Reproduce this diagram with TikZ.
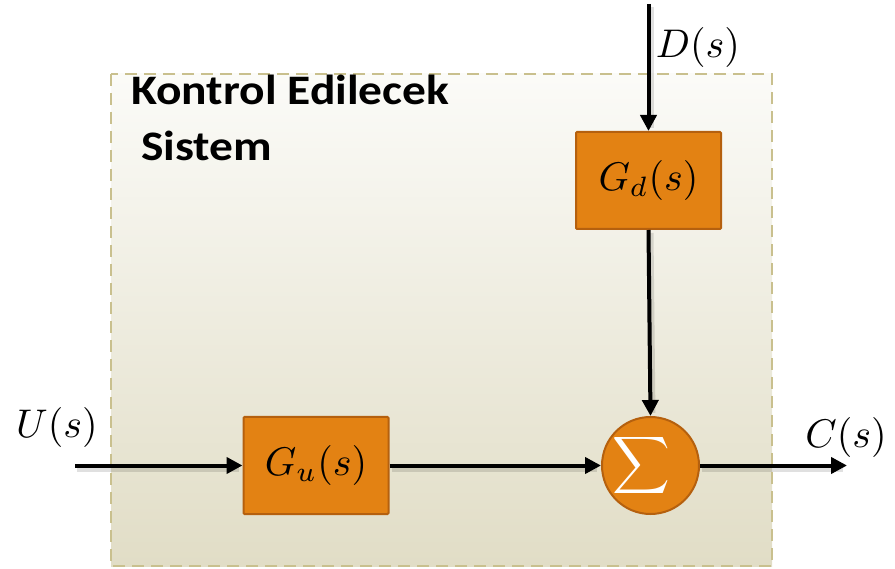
\documentclass[tikz,border=0pt]{standalone}
\usepackage{fontspec}
\setsansfont{Carlito}
\newfontfamily\titlefont[FakeStretch=1.13]{Carlito}
\usetikzlibrary{arrows.meta}
\newcommand\mathlbl[1]{\scalebox{4}{$#1$}}
\definecolor{boxfill}{HTML}{E38213}
\definecolor{boxedge}{HTML}{B5600E}
\definecolor{frameedge}{HTML}{C9C08E}
\definecolor{frametop}{HTML}{FBFBF8}
\definecolor{framebot}{HTML}{E1DDC6}
\tikzset{
  blockbox/.style={draw=boxedge, line width=2pt, fill=boxfill, rounded corners=1pt, minimum width=145pt, minimum height=97pt, inner sep=0pt},
  sumnode/.style={circle, draw=boxedge, line width=2pt, fill=boxfill, minimum size=97pt, inner sep=0pt, text=white},
  sig/.style={line width=4pt, -{Triangle[length=16pt,width=16pt]}},
  sigshadow/.style={line width=6pt, black, opacity=0.12, shorten >=6pt, transform canvas={shift={(2pt,-3pt)}}},
  lbl/.style={inner sep=0pt},
  titletext/.style={anchor=base west, font=\titlefont\bfseries\fontsize{42}{57}\selectfont, inner sep=0pt},
}
\begin{document}
\begin{tikzpicture}[x=1pt,y=-1pt]
\useasboundingbox (0,0) rectangle (895,569);
\shade[top color=frametop, bottom color=framebot] (111,74) rectangle (772,566);
\draw[frameedge, line width=2pt, dash pattern=on 12pt off 7pt] (111,74) rectangle (772,566);
\node[titletext] (title1) at (131,105) {Kontrol Edilecek};
\node[titletext] (title2) at (141,161) {Sistem};
\node[blockbox] (gd) at (648.5,180.5) {\mathlbl{G_d(s)}};
\node[blockbox] (gu) at (316,465.5) {\mathlbl{G_u(s)}};
\node[sumnode] (sum) at (650.5,465.5) {\kern-18pt\mathlbl{\displaystyle\sum}};
\coordinate (din) at (648.5,4);
\coordinate (uin) at (75,465.5);
\coordinate (cout) at (847,465.5);
\node[lbl] (dl) at (698,48) {\mathlbl{D(s)}};
\node[lbl] (ul) at (57,428) {\mathlbl{U(s)}};
\node[lbl] (cl) at (846,438) {\mathlbl{C(s)}};
\draw[sigshadow] (din) -- (gd.north);
\draw[sigshadow] (gd.south) -- (sum.north);
\draw[sigshadow] (uin) -- (gu.west);
\draw[sigshadow] (gu.east) -- (sum.west);
\draw[sigshadow] (sum.east) -- (cout);
\draw[sig] (din) -- (gd.north);
\draw[sig] (gd.south) -- (sum.north);
\draw[sig] (uin) -- (gu.west);
\draw[sig] (gu.east) -- (sum.west);
\draw[sig] (sum.east) -- (cout);
\end{tikzpicture}
\end{document}
